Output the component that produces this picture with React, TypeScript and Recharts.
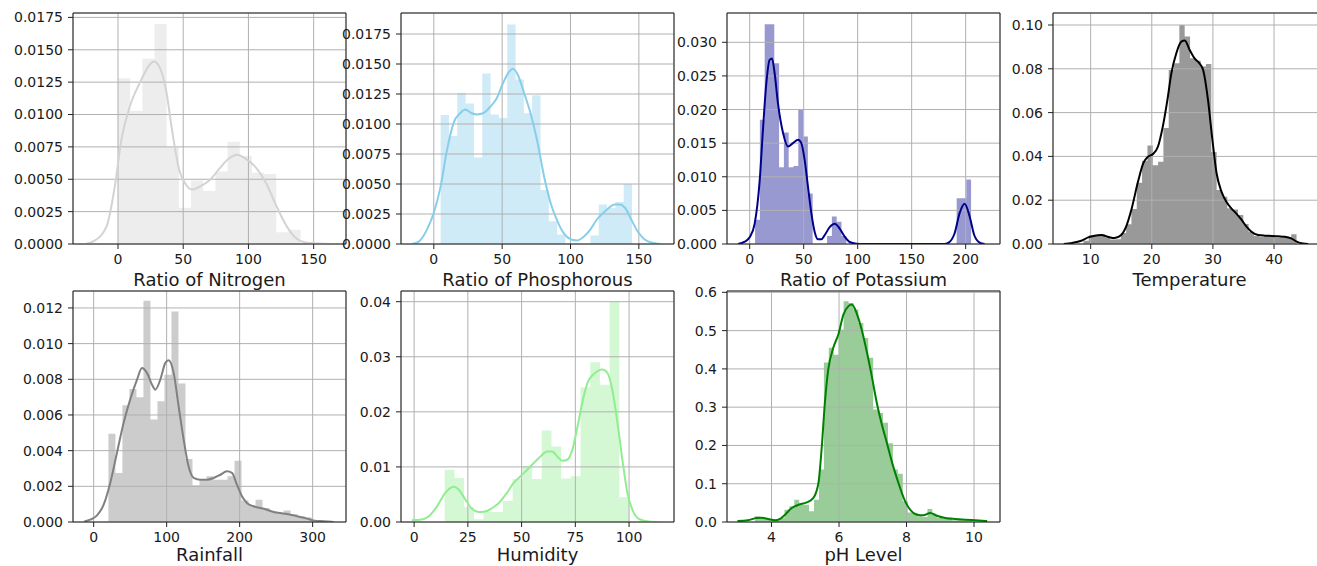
import React from 'react';
import { ComposedChart, Area, Line, XAxis, YAxis, CartesianGrid, ReferenceLine } from 'recharts';

// ---------------- Nitrogen ----------------
const nitrogenEdges = [0, 9.33, 18.67, 28, 37.33, 46.67, 56, 65.33, 74.67, 84, 93.33, 102.67, 112, 121.33, 130.67, 140];
const nitrogenDensity = [0.0128, 0.0103, 0.0143, 0.017, 0.0075, 0.0028, 0.0049, 0.0041, 0.0056, 0.0079, 0.0068, 0.0055, 0.0054, 0.0009, 0.0011];
const nitrogenKdeX = [-25, -19, -9, -2.5, 2.5, 9, 16.5, 24, 27.4, 31.7, 36.8, 41.9, 47, 52, 57, 62, 70, 77.6, 85, 91.4, 97.7, 105, 113, 120.7, 128, 135.8, 143, 153.5, 165];
const nitrogenKdeY = [0, 0.0002, 0.0013, 0.0044, 0.008, 0.0106, 0.0124, 0.0138, 0.0141, 0.0137, 0.0119, 0.0085, 0.0057, 0.0046, 0.0042, 0.0044, 0.0049, 0.0058, 0.0066, 0.0069, 0.0066, 0.006, 0.0048, 0.0031, 0.0016, 0.0005, 0.00013, 0.00003, 0];
const nitrogenXTicks = [0, 50, 100, 150];
const nitrogenYTicks = [0, 0.0025, 0.005, 0.0075, 0.01, 0.0125, 0.015, 0.0175];

// ---------------- Phosphorous ----------------
const phosEdges = [5, 11.09, 17.17, 23.26, 29.35, 35.43, 41.52, 47.61, 53.7, 59.78, 65.87, 71.96, 78.04, 84.13, 90.22, 96.3, 102.39, 108.48, 114.57, 120.65, 126.74, 132.83, 138.91, 145];
const phosDensity = [0.01075, 0.009, 0.0126, 0.0117, 0.0072, 0.0142, 0.0108, 0.0105, 0.0183, 0.0137, 0.0109, 0.0124, 0.0045, 0.0019, 0.0008, 0, 0, 0, 0.0007, 0.0033, 0.003, 0.0035, 0.005];
const phosKdeX = [-16, -11, -5, 0, 5, 9.6, 14.5, 19.3, 23, 27.7, 31.3, 36, 41, 45.8, 50.6, 55.4, 57.8, 61.4, 66, 71, 76, 80.7, 85.5, 90.4, 95, 100, 104.8, 109.6, 114.5, 119, 125, 132.5, 136, 140, 144.6, 149.4, 154, 160, 166];
const phosKdeY = [0, 0.0002, 0.0012, 0.0026, 0.0048, 0.0078, 0.0101, 0.0109, 0.0112, 0.0109, 0.0108, 0.0109, 0.0114, 0.0121, 0.0134, 0.0144, 0.0146, 0.0141, 0.0126, 0.0108, 0.0084, 0.0056, 0.0034, 0.0019, 0.0009, 0.0004, 0.0003, 0.0006, 0.0012, 0.002, 0.0027, 0.0033, 0.0033, 0.003, 0.002, 0.001, 0.0004, 0.0001, 0];
const phosXTicks = [0, 50, 100, 150];
const phosYTicks = [0, 0.0025, 0.005, 0.0075, 0.01, 0.0125, 0.015, 0.0175];

// ---------------- Potassium ----------------
const potEdges = [5, 9.44, 13.89, 18.33, 22.78, 27.22, 31.67, 36.11, 40.56, 45, 49.44, 53.89, 58.33, 62.78, 67.22, 71.67, 76.11, 80.56, 85, 89.44, 93.89, 98.33, 102.78, 107.22, 111.67, 116.11, 120.56, 125, 129.44, 133.89, 138.33, 142.78, 147.22, 151.67, 156.11, 160.56, 165, 169.44, 173.89, 178.33, 182.78, 187.22, 191.67, 196.11, 200.56, 205];
const potDensity = [0.0036, 0.0185, 0.0327, 0.0327, 0.0269, 0.0114, 0.0166, 0.0114, 0.0116, 0.02, 0.016, 0.0075, 0, 0, 0, 0.0012, 0.0041, 0.0033, 0.0012, 0, 0, 0, 0, 0, 0, 0, 0, 0, 0, 0, 0, 0, 0, 0, 0, 0, 0, 0, 0, 0, 0, 0, 0.0068, 0.0068, 0.0096];
const potKdeX = [-10.8, -4.6, 0, 4.6, 9.3, 12.3, 15.4, 18.5, 20.7, 23.1, 26.2, 30.9, 35.5, 40.1, 44.8, 47.8, 50.9, 54, 57.1, 60.2, 63.3, 66.4, 69.4, 74.1, 78.7, 83.3, 88, 92.6, 98.8, 106, 180.6, 185, 189.8, 194.4, 199, 203.7, 208, 213, 217.6];
const potKdeY = [0, 0.00035, 0.001, 0.003, 0.0095, 0.017, 0.0239, 0.0274, 0.0276, 0.0254, 0.0209, 0.0165, 0.0145, 0.015, 0.0155, 0.015, 0.0125, 0.0085, 0.0046, 0.0018, 0.0007, 0.0007, 0.0013, 0.0025, 0.003, 0.0023, 0.0011, 0.0003, 0.00005, 0, 0, 0.0003, 0.0016, 0.0046, 0.006, 0.0041, 0.0013, 0.0002, 0];
const potXTicks = [0, 50, 100, 150, 200];
const potYTicks = [0, 0.005, 0.01, 0.015, 0.02, 0.025, 0.03];

// ---------------- Temperature ----------------
const tempEdges = [8.83, 9.7, 10.57, 11.44, 12.32, 13.19, 14.06, 14.93, 15.8, 16.67, 17.54, 18.41, 19.29, 20.16, 21.03, 21.9, 22.77, 23.64, 24.51, 25.38, 26.26, 27.13, 28, 28.87, 29.74, 30.61, 31.48, 32.35, 33.23, 34.1, 34.97, 35.84, 36.71, 37.58, 38.45, 39.32, 40.2, 41.07, 41.94, 42.81, 43.68];
const tempDensity = [0.0015, 0.004, 0.004, 0.0045, 0.003, 0.002, 0.0022, 0.005, 0.009, 0.016, 0.028, 0.038, 0.045, 0.036, 0.0376, 0.053, 0.0795, 0.0825, 0.1, 0.0947, 0.0848, 0.0837, 0.081, 0.0822, 0.042, 0.0247, 0.0216, 0.0163, 0.0158, 0.0132, 0.0091, 0.0056, 0.0037, 0.0033, 0.0037, 0.0033, 0.003, 0.003, 0.003, 0.0044];
const tempKdeX = [5.6, 7, 8.47, 9.6, 10.65, 11.75, 12.8, 13.9, 15, 15.8, 16.65, 17.75, 18.6, 19.4, 20.2, 21, 21.8, 22.55, 23.2, 24, 24.84, 25.4, 26.2, 27, 27.8, 28.4, 29.2, 29.86, 30.6, 31.4, 32.2, 33, 33.8, 34.7, 35.5, 36.3, 37.4, 38.5, 39.6, 40.7, 41.75, 42.8, 43.7, 44.75, 45.6];
const tempKdeY = [0, 0.0005, 0.0015, 0.003, 0.0038, 0.0041, 0.0033, 0.0027, 0.0041, 0.0079, 0.0155, 0.0285, 0.0368, 0.0399, 0.0411, 0.0444, 0.0536, 0.0657, 0.0779, 0.087, 0.0924, 0.0929, 0.0886, 0.0848, 0.0825, 0.0795, 0.0657, 0.049, 0.0323, 0.0239, 0.0193, 0.0163, 0.014, 0.011, 0.0079, 0.0056, 0.0041, 0.0038, 0.0037, 0.0035, 0.0033, 0.0026, 0.0011, 0.0002, 0];
const tempXTicks = [10, 20, 30, 40];
const tempYTicks = [0, 0.02, 0.04, 0.06, 0.08, 0.1];

// ---------------- Rainfall ----------------
const rainEdges = [20.21, 29.81, 39.41, 49, 58.6, 68.2, 77.8, 87.4, 97, 106.59, 116.19, 125.79, 135.39, 144.99, 154.58, 164.18, 173.78, 183.38, 192.98, 202.58, 212.17, 221.77, 231.37, 240.97, 250.57, 260.16, 269.76, 279.36, 288.96, 298.56];
const rainDensity = [0.00495, 0.00275, 0.00654, 0.00746, 0.007, 0.0124, 0.00574, 0.00677, 0.00826, 0.0118, 0.00776, 0.00353, 0.00206, 0.00234, 0.00256, 0.00237, 0.00237, 0.00256, 0.00344, 0.00121, 0.00092, 0.00125, 0.00078, 0.0006, 0.0005, 0.00064, 0.00045, 0.00032, 0.00026];
const rainKdeX = [-12.8, -4.6, 4.6, 13.7, 22.8, 32, 41, 50, 59.4, 66.2, 73, 80, 84.5, 91.3, 98.2, 102.7, 109.6, 116.4, 123.3, 130, 137, 146, 155.3, 164.4, 173.5, 182.6, 189.5, 196.3, 203.2, 210, 219, 228, 237.4, 246.6, 255.7, 264.8, 274, 283, 292, 301, 315, 329];
const rainKdeY = [0.00003, 0.00013, 0.00037, 0.00097, 0.0022, 0.0039, 0.00555, 0.00686, 0.00798, 0.00864, 0.00836, 0.0077, 0.00742, 0.00798, 0.00892, 0.00907, 0.00836, 0.00649, 0.00462, 0.00312, 0.00247, 0.00237, 0.00237, 0.00247, 0.00265, 0.00284, 0.00275, 0.00209, 0.00144, 0.00107, 0.00088, 0.00079, 0.00069, 0.00056, 0.0005, 0.00045, 0.00037, 0.00028, 0.00019, 0.00009, 0.00004, 0];
const rainXTicks = [0, 100, 200, 300];
const rainYTicks = [0, 0.002, 0.004, 0.006, 0.008, 0.01, 0.012];

// ---------------- Humidity ----------------
const humEdges = [14.26, 18.77, 23.28, 27.8, 32.31, 36.82, 41.33, 45.84, 50.36, 54.87, 59.38, 63.89, 68.4, 72.92, 77.43, 81.94, 86.45, 90.96, 95.47, 99.98];
const humDensity = [0.0095, 0.008, 0.0027, 0.0005, 0.0018, 0.0018, 0.0038, 0.0078, 0.0102, 0.0078, 0.0166, 0.0137, 0.0079, 0.0083, 0.0244, 0.029, 0.0249, 0.04, 0.0045];
const humKdeX = [-1.1, 2.8, 6.7, 10.6, 14.5, 18.4, 20.7, 23.8, 26.9, 30, 33, 36.2, 39.3, 43.2, 46.3, 49.5, 52.6, 55.7, 58.8, 61.9, 64.2, 66.6, 68.9, 71.2, 73.6, 75.9, 78.2, 80.6, 83.7, 87.6, 89.9, 92.2, 94.6, 96.9, 99.2, 102.3, 105.4, 110, 114.8];
const humKdeY = [0.0003, 0.0004, 0.001, 0.0028, 0.0053, 0.0064, 0.0059, 0.0041, 0.0024, 0.0018, 0.0019, 0.0025, 0.0034, 0.0053, 0.0071, 0.0083, 0.0095, 0.0107, 0.0119, 0.0128, 0.0128, 0.0119, 0.0111, 0.0113, 0.0131, 0.0171, 0.0216, 0.0252, 0.0269, 0.0277, 0.0271, 0.024, 0.018, 0.0113, 0.0053, 0.0016, 0.0004, 0.00006, 0];
const humXTicks = [0, 25, 50, 75, 100];
const humYTicks = [0, 0.01, 0.02, 0.03, 0.04];

// ---------------- pH ----------------
const phEdges = [3.505, 3.651, 3.797, 3.943, 4.09, 4.236, 4.382, 4.528, 4.674, 4.82, 4.966, 5.112, 5.259, 5.405, 5.551, 5.697, 5.843, 5.989, 6.136, 6.282, 6.428, 6.574, 6.72, 6.866, 7.012, 7.159, 7.305, 7.451, 7.597, 7.743, 7.889, 8.036, 8.182, 8.328, 8.474, 8.62, 8.766, 8.912, 9.058, 9.205, 9.351, 9.497, 9.643, 9.789, 9.935];
const phDensity = [0.0148, 0.013, 0.008, 0.008, 0.0044, 0.0105, 0.032, 0.041, 0.058, 0.045, 0.045, 0.028, 0.058, 0.137, 0.417, 0.455, 0.437, 0.503, 0.577, 0.572, 0.555, 0.52, 0.481, 0.429, 0.294, 0.285, 0.259, 0.206, 0.137, 0.126, 0.054, 0.025, 0.0235, 0.0148, 0.013, 0.034, 0.019, 0.0105, 0.0087, 0.012, 0.0044, 0.006, 0.0044, 0.0035];
const phKdeX = [2.99, 3.3, 3.55, 3.7, 3.9, 4.1, 4.25, 4.4, 4.6, 4.8, 5.04, 5.24, 5.39, 5.49, 5.58, 5.68, 5.83, 5.98, 6.13, 6.28, 6.38, 6.52, 6.67, 6.82, 6.97, 7.12, 7.27, 7.42, 7.56, 7.76, 7.96, 8.11, 8.31, 8.5, 8.7, 8.9, 9.15, 9.45, 9.74, 10.04, 10.39];
const phKdeY = [0.0026, 0.0044, 0.0105, 0.0113, 0.008, 0.0044, 0.008, 0.019, 0.0366, 0.045, 0.051, 0.063, 0.102, 0.198, 0.311, 0.398, 0.455, 0.49, 0.542, 0.564, 0.568, 0.546, 0.503, 0.446, 0.381, 0.311, 0.254, 0.206, 0.159, 0.102, 0.054, 0.032, 0.019, 0.0174, 0.0235, 0.0165, 0.0105, 0.008, 0.006, 0.0044, 0.0026];
const phXTicks = [4, 6, 8, 10];
const phYTicks = [0, 0.1, 0.2, 0.3, 0.4, 0.5, 0.6];

// ---------------- layout / style ----------------
const FONT = '"DejaVu Sans", "Liberation Sans", sans-serif';
const TEXT = '#1a1a1a';
const SPINE = '#222222';
const GRID = '#b0b0b0';

const PLOT_W = 273;
const PLOT_H = 231;
const Y_AXIS_W = 80;
const X_AXIS_H = 50;
const M_TOP = 8;
const M_RIGHT = 8;

type Spec = {
  left: number;
  top: number;
  labelOffset: number;
  label: string;
  color: string;
  edges: number[];
  dens: number[];
  kx: number[];
  ky: number[];
  xDomain: [number, number];
  yDomain: [number, number];
  xTicks: number[];
  yTicks: number[];
  yDigits: number;
};

const panels: Spec[] = [
  { left: 73, top: 13, labelOffset: 8, label: 'Ratio of Nitrogen', color: '#d3d3d3', edges: nitrogenEdges, dens: nitrogenDensity, kx: nitrogenKdeX, ky: nitrogenKdeY, xDomain: [-34.5, 174.8], yDomain: [0, 0.01784], xTicks: nitrogenXTicks, yTicks: nitrogenYTicks, yDigits: 4 },
  { left: 401, top: 13, labelOffset: 8, label: 'Ratio of Phosphorous', color: '#87ceeb', edges: phosEdges, dens: phosDensity, kx: phosKdeX, ky: phosKdeY, xDomain: [-24, 175.7], yDomain: [0, 0.01925], xTicks: phosXTicks, yTicks: phosYTicks, yDigits: 4 },
  { left: 727, top: 13, labelOffset: 8, label: 'Ratio of Potassium', color: '#00008b', edges: potEdges, dens: potDensity, kx: potKdeX, ky: potKdeY, xDomain: [-21, 231.8], yDomain: [0, 0.03436], xTicks: potXTicks, yTicks: potYTicks, yDigits: 3 },
  { left: 1053, top: 13, labelOffset: 8, label: 'Temperature', color: '#000000', edges: tempEdges, dens: tempDensity, kx: tempKdeX, ky: tempKdeY, xDomain: [3.84, 48.5], yDomain: [0, 0.10548], xTicks: tempXTicks, yTicks: tempYTicks, yDigits: 2 },
  { left: 73, top: 291, labelOffset: 11, label: 'Rainfall', color: '#808080', edges: rainEdges, dens: rainDensity, kx: rainKdeX, ky: rainKdeY, xDomain: [-28.3, 345.7], yDomain: [0, 0.01295], xTicks: rainXTicks, yTicks: rainYTicks, yDigits: 3 },
  { left: 401, top: 291, labelOffset: 11, label: 'Humidity', color: '#90ee90', edges: humEdges, dens: humDensity, kx: humKdeX, ky: humKdeY, xDomain: [-6.1, 120.9], yDomain: [0, 0.04194], xTicks: humXTicks, yTicks: humYTicks, yDigits: 2 },
  { left: 727, top: 291, labelOffset: 11, label: 'pH Level', color: '#008000', edges: phEdges, dens: phDensity, kx: phKdeX, ky: phKdeY, xDomain: [2.68, 10.77], yDomain: [0, 0.6035], xTicks: phXTicks, yTicks: phYTicks, yDigits: 1 },
];

function buildRows(s: Spec) {
  const rows: { x: number; hist?: number; kde?: number }[] = [];
  s.edges.forEach((x, i) => rows.push({ x, hist: i < s.dens.length ? s.dens[i] : 0 }));
  s.kx.forEach((x, i) => rows.push({ x, kde: s.ky[i] }));
  rows.sort((a, b) => a.x - b.x);
  return rows;
}

const tickStyle = { fontSize: 14, fill: TEXT, fontFamily: FONT };

function HistPanel({ s }: { s: Spec }) {
  const rows = buildRows(s);
  return (
    <div style={{ position: 'absolute', left: s.left - Y_AXIS_W, top: s.top - M_TOP }}>
      <ComposedChart
        width={Y_AXIS_W + PLOT_W + M_RIGHT}
        height={M_TOP + PLOT_H + X_AXIS_H}
        data={rows}
        margin={{ top: M_TOP, right: M_RIGHT, bottom: 0, left: 0 }}
      >
        <Area
          type="stepAfter"
          dataKey="hist"
          stroke="none"
          fill={s.color}
          fillOpacity={0.4}
          connectNulls
          isAnimationActive={false}
          zIndex={100}
        />
        <CartesianGrid stroke={GRID} strokeWidth={1} zIndex={150} />
        <Line
          type="monotone"
          dataKey="kde"
          stroke={s.color}
          strokeWidth={2}
          dot={false}
          activeDot={false}
          connectNulls
          isAnimationActive={false}
          zIndex={400}
        />
        <ReferenceLine y={s.yDomain[1]} stroke={SPINE} strokeWidth={1} ifOverflow="visible" zIndex={500} />
        <ReferenceLine x={s.xDomain[1]} stroke={SPINE} strokeWidth={1} ifOverflow="visible" zIndex={500} />
        <XAxis
          dataKey="x"
          type="number"
          domain={s.xDomain}
          allowDataOverflow
          ticks={s.xTicks}
          interval={0}
          height={X_AXIS_H}
          tickSize={5}
          tickMargin={5}
          axisLine={{ stroke: SPINE, strokeWidth: 1 }}
          tickLine={{ stroke: SPINE, strokeWidth: 1 }}
          tick={tickStyle}
          label={{ value: s.label, position: 'insideBottom', offset: s.labelOffset, fontSize: 18, fill: TEXT, fontFamily: FONT }}
        />
        <YAxis
          type="number"
          domain={s.yDomain}
          allowDataOverflow
          ticks={s.yTicks}
          interval={0}
          width={Y_AXIS_W}
          tickSize={5}
          tickMargin={5}
          axisLine={{ stroke: SPINE, strokeWidth: 1 }}
          tickLine={{ stroke: SPINE, strokeWidth: 1 }}
          tick={tickStyle}
          tickFormatter={(v: number) => v.toFixed(s.yDigits)}
        />
      </ComposedChart>
    </div>
  );
}

export default function App() {
  return (
    <div
      style={{
        position: 'absolute',
        left: 0,
        top: 0,
        width: 1317,
        height: 566,
        overflow: 'hidden',
        background: '#ffffff',
      }}
    >
      {panels.map((s) => (
        <HistPanel key={s.label} s={s} />
      ))}
    </div>
  );
}
